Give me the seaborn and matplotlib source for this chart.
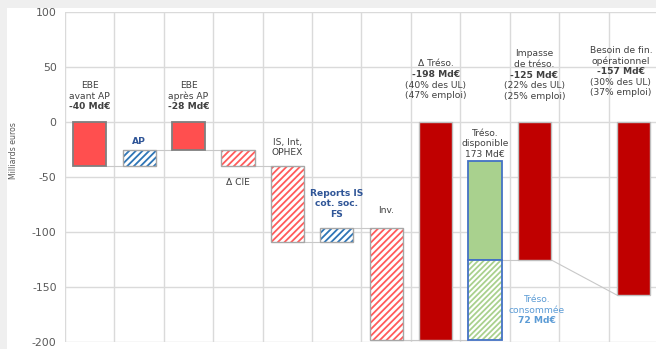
import numpy as np
import pandas as pd
import matplotlib
matplotlib.use("Agg")
import matplotlib.pyplot as plt
import seaborn as sns
from matplotlib.patches import Rectangle

# ---------------- data ----------------
categories = ["EBE avant AP", "AP", "EBE après AP", "Δ CIE", "IS, Int, OPHEX",
              "Reports IS", "Inv.", "Δ Tréso.", "Tréso. disponible", "Impasse",
              "(vide)", "Besoin de fin."]

seg_category = ["EBE avant AP", "AP", "EBE après AP", "Δ CIE", "IS, Int, OPHEX",
                "Reports IS", "Inv.", "Δ Tréso.", "Tréso. disponible",
                "Tréso. disponible", "Impasse", "Besoin de fin."]
seg_top = [0, -25, 0, -25, -40, -96, -96, 0, -35, -125, 0, 0]
seg_bottom = [-40, -40, -25, -40, -109, -109, -198, -198, -125, -198, -125, -157]
seg_style = ["solid_red", "hatch_blue", "solid_red", "hatch_red", "hatch_red",
             "hatch_blue", "hatch_red", "dark_red", "solid_green", "hatch_green",
             "dark_red", "dark_red"]

# connectors: from category, to category, level at start, level at end
conn_from = ["EBE avant AP", "AP", "EBE après AP", "Δ CIE", "IS, Int, OPHEX",
             "Reports IS", "Inv.", "Δ Tréso.", "Tréso. disponible", "Impasse"]
conn_to = ["AP", "EBE après AP", "Δ CIE", "IS, Int, OPHEX", "Reports IS",
           "Inv.", "Δ Tréso.", "Tréso. disponible", "Impasse", "Besoin de fin."]
conn_y0 = [-40, -25, -25, -40, -109, -96, -198, -198, -125, -125]
conn_y1 = [-40, -25, -25, -40, -109, -96, -198, -198, -125, -157]

y_ticks = [-200, -150, -100, -50, 0, 50, 100]

# ---------------- style ----------------
styles = {
    "solid_red":  dict(face="#FF4F4F", edge="#7F7F7F", hatch=None, hcol=None, lw=1.3),
    "dark_red":   dict(face="#C00000", edge="#BFBFBF", hatch=None, hcol=None, lw=1.0),
    "hatch_red":  dict(face="white", edge="#A6A6A6", hatch="/////", hcol="#FF5B5B", lw=1.0),
    "hatch_blue": dict(face="white", edge="#A6A6A6", hatch="/////", hcol="#2E75B6", lw=1.0),
    "solid_green": dict(face="#A9D18E", edge="#4472C4", hatch=None, hcol=None, lw=1.3),
    "hatch_green": dict(face="white", edge="#4472C4", hatch="//////", hcol="#A9D18E", lw=1.3),
}

sns.set_theme(style="white")
plt.rcParams["font.family"] = ["DejaVu Sans"]
plt.rcParams["hatch.linewidth"] = 1.3

fig = plt.figure(figsize=(6.56, 3.49), dpi=100)
fig.patch.set_facecolor("white")
fig.add_artist(Rectangle((0, 1 - 8 / 349), 1, 8 / 349, transform=fig.transFigure,
                         facecolor="#EFEFEF", edgecolor="none", zorder=-10))
fig.add_artist(Rectangle((0, 0), 7 / 656, 1, transform=fig.transFigure,
                         facecolor="#EFEFEF", edgecolor="none", zorder=-10))

ax = fig.add_axes([65 / 656, 1 - 342.3 / 349, (658 - 65) / 656, (342.3 - 12.3) / 349])

W = 0.67
for cat, top, bot, st in zip(seg_category, seg_top, seg_bottom, seg_style):
    s = styles[st]
    df = pd.DataFrame({"cat": [cat], "h": [top - bot]})
    if s["hatch"] is None:
        sns.barplot(data=df, x="cat", y="h", order=categories, bottom=bot, width=W,
                    errorbar=None, ax=ax, facecolor=s["face"], edgecolor=s["edge"],
                    linewidth=s["lw"], zorder=3)
    else:
        sns.barplot(data=df, x="cat", y="h", order=categories, bottom=bot, width=W,
                    errorbar=None, ax=ax, facecolor=s["face"], edgecolor=s["hcol"],
                    hatch=s["hatch"], linewidth=0, zorder=3)
        sns.barplot(data=df, x="cat", y="h", order=categories, bottom=bot, width=W,
                    errorbar=None, ax=ax, fill=False, facecolor="none",
                    edgecolor=s["edge"], linewidth=s["lw"], zorder=4)

# connectors
pos = {c: i for i, c in enumerate(categories)}
for a, b, y0, y1 in zip(conn_from, conn_to, conn_y0, conn_y1):
    ax.plot([pos[a] + W / 2, pos[b] - W / 2], [y0, y1], color="#C8C8C8", lw=0.8, zorder=2)

# axes styling
ax.set_xlim(-0.5, len(categories) - 0.5)
ax.set_ylim(-200, 100)
ax.set_yticks(y_ticks)
ax.set_yticklabels([str(t) for t in y_ticks], color="#595959", fontsize=7.8)
ax.set_xticks([])
ax.set_xticks(np.arange(-0.5, len(categories), 1), minor=True)
ax.tick_params(axis="x", which="both", labelbottom=False, length=0)
ax.tick_params(axis="y", length=0, pad=6)
ax.grid(axis="y", which="major", color="#DADADA", lw=1.0)
ax.grid(axis="x", which="minor", color="#DADADA", lw=1.0)
ax.set_axisbelow(True)
for sp in ax.spines.values():
    sp.set_visible(False)
ax.set_xlabel("")
ax.set_ylabel("Milliards euros", color="#595959", fontsize=5.6)
ax.yaxis.set_label_coords(-0.08, 0.58)

# annotations
DARK = "#404040"
BLUE = "#2F5597"
LBLUE = "#5B9BD5"
STEP = 9.6


def label(x, yc, lines, color=DARK, size=6.6):
    n = len(lines)
    for i, (txt, bold) in enumerate(lines):
        y = yc + (n - 1) / 2 * STEP - i * STEP
        ax.text(x, y, txt, ha="center", va="center", fontsize=size, color=color,
                fontweight="bold" if bold else "normal", zorder=5)


label(0, 23.6, [("EBE", False), ("avant AP", False), ("-40 Md€", True)])
label(1, -17.3, [("AP", True)], color=BLUE)
label(2, 23.6, [("EBE", False), ("après AP", False), ("-28 Md€", True)])
label(3, -55, [("Δ CIE", False)])
label(4, -23, [("IS, Int,", False), ("OPHEX", False)])
label(5, -74, [("Reports IS", True), ("cot. soc.", True), ("FS", True)], color=BLUE)
label(6, -80.6, [("Inv.", False)])
label(7, 38.6, [("Δ Tréso.", False), ("-198 Md€", True), ("(40% des UL)", False),
                ("(47% emploi)", False)])
label(8, -19.5, [("Tréso.", False), ("disponible", False), ("173 Md€", False)])
label(9, 43, [("Impasse", False), ("de tréso.", False), ("-125 Md€", True),
              ("(22% des UL)", False), ("(25% emploi)", False)])
label(9.05, -171, [("Tréso.", False), ("consommée", False), ("72 Md€", True)], color=LBLUE)
label(10.75, 46, [("Besoin de fin.", False), ("opérationnel", False), ("-157 Md€", True),
                  ("(30% des UL)", False), ("(37% emploi)", False)])

fig.savefig("out.png", dpi=100)
